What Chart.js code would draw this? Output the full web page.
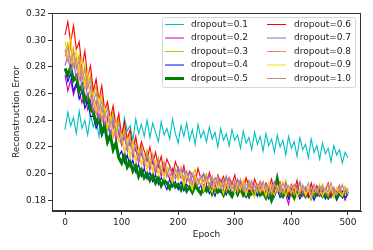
<!DOCTYPE html>
<html>
<head>
<meta charset="utf-8">
<script src="https://cdn.jsdelivr.net/npm/chart.js@4"></script>
<style>
  html, body { margin: 0; padding: 0; background: #fff; }
  canvas { display: block; }
</style>
</head>
<body>
<canvas id="chart" width="373" height="250"></canvas>
<script>
// epochs sampled every 5
var epochs = [];
for (var e = 0; e <= 500; e += 5) epochs.push(e);

var xTicks = [0, 100, 200, 300, 400, 500];
var yTicks = [0.18, 0.20, 0.22, 0.24, 0.26, 0.28, 0.30, 0.32];

var labels = ["dropout=0.1", "dropout=0.2", "dropout=0.3", "dropout=0.4", "dropout=0.5",
              "dropout=0.6", "dropout=0.7", "dropout=0.8", "dropout=0.9", "dropout=1.0"];
var colors = ["#00bfbf", "#bf00bf", "#bfbf00", "#0000ff", "#008000",
              "#ff0000", "#9966cc", "#fa8072", "#ffd700", "#bc8f8f"];

var d01 = [0.233, 0.246, 0.236, 0.242, 0.230, 0.247, 0.234, 0.240, 0.229, 0.244,
  0.235, 0.241, 0.228, 0.245, 0.233, 0.238, 0.227, 0.243, 0.231, 0.239,
  0.226, 0.242, 0.232, 0.236, 0.225, 0.241, 0.230, 0.237, 0.228, 0.240,
  0.227, 0.238, 0.231, 0.224, 0.239, 0.229, 0.234, 0.226, 0.241, 0.230,
  0.223, 0.236, 0.228, 0.238, 0.225, 0.233, 0.222, 0.237, 0.227, 0.232,
  0.224, 0.235, 0.226, 0.231, 0.220, 0.234, 0.225, 0.230, 0.221, 0.233,
  0.225, 0.229, 0.219, 0.232, 0.223, 0.227, 0.218, 0.231, 0.222, 0.228,
  0.217, 0.230, 0.221, 0.226, 0.216, 0.229, 0.220, 0.225, 0.214, 0.228,
  0.219, 0.224, 0.213, 0.227, 0.218, 0.222, 0.212, 0.226, 0.216, 0.221,
  0.211, 0.223, 0.215, 0.219, 0.209, 0.221, 0.214, 0.218, 0.208, 0.216, 0.212];

var d02 = [0.274, 0.262, 0.270, 0.259, 0.266, 0.262, 0.253, 0.260, 0.248, 0.255,
  0.243, 0.251, 0.238, 0.246, 0.234, 0.241, 0.229, 0.237, 0.225, 0.231,
  0.221, 0.228, 0.217, 0.224, 0.212, 0.219, 0.208, 0.216, 0.205, 0.212,
  0.203, 0.210, 0.200, 0.208, 0.198, 0.205, 0.201, 0.196, 0.204, 0.199,
  0.196, 0.202, 0.193, 0.200, 0.195, 0.191, 0.198, 0.193, 0.196, 0.189,
  0.197, 0.191, 0.195, 0.188, 0.194, 0.190, 0.196, 0.187, 0.193, 0.189,
  0.192, 0.186, 0.195, 0.189, 0.185, 0.193, 0.188, 0.191, 0.184, 0.190,
  0.187, 0.192, 0.185, 0.189, 0.183, 0.191, 0.186, 0.188, 0.184, 0.177,
  0.189, 0.184, 0.191, 0.186, 0.183, 0.190, 0.185, 0.188, 0.182, 0.189,
  0.185, 0.190, 0.183, 0.187, 0.184, 0.189, 0.182, 0.187, 0.185, 0.180, 0.186];

var d03 = [0.291, 0.298, 0.285, 0.294, 0.280, 0.289, 0.271, 0.281, 0.266, 0.274,
  0.258, 0.266, 0.251, 0.260, 0.245, 0.253, 0.239, 0.247, 0.233, 0.241,
  0.226, 0.235, 0.222, 0.230, 0.217, 0.226, 0.214, 0.221, 0.209, 0.218,
  0.207, 0.215, 0.203, 0.212, 0.201, 0.209, 0.198, 0.206, 0.200, 0.204,
  0.197, 0.205, 0.195, 0.201, 0.193, 0.199, 0.203, 0.192, 0.198, 0.194,
  0.200, 0.190, 0.197, 0.193, 0.188, 0.196, 0.191, 0.198, 0.187, 0.194,
  0.189, 0.195, 0.186, 0.192, 0.197, 0.188, 0.193, 0.185, 0.191, 0.187,
  0.194, 0.186, 0.190, 0.184, 0.193, 0.188, 0.191, 0.185, 0.195, 0.187,
  0.183, 0.191, 0.186, 0.193, 0.184, 0.189, 0.187, 0.192, 0.183, 0.190,
  0.186, 0.192, 0.184, 0.188, 0.191, 0.183, 0.189, 0.185, 0.192, 0.186, 0.189];

var d04 = [0.278, 0.269, 0.275, 0.262, 0.268, 0.256, 0.262, 0.249, 0.254, 0.243,
  0.243, 0.234, 0.240, 0.228, 0.234, 0.222, 0.228, 0.217, 0.223, 0.213,
  0.217, 0.208, 0.214, 0.205, 0.210, 0.201, 0.207, 0.198, 0.204, 0.196,
  0.201, 0.194, 0.199, 0.192, 0.197, 0.193, 0.188, 0.196, 0.190, 0.194,
  0.188, 0.194, 0.187, 0.192, 0.189, 0.185, 0.193, 0.188, 0.191, 0.186,
  0.191, 0.185, 0.189, 0.183, 0.190, 0.186, 0.188, 0.184, 0.190, 0.185,
  0.188, 0.183, 0.189, 0.185, 0.182, 0.188, 0.184, 0.187, 0.183, 0.189,
  0.184, 0.187, 0.181, 0.186, 0.183, 0.188, 0.182, 0.185, 0.187, 0.181,
  0.186, 0.183, 0.187, 0.181, 0.185, 0.188, 0.182, 0.186, 0.180, 0.185,
  0.183, 0.187, 0.181, 0.185, 0.182, 0.186, 0.180, 0.184, 0.187, 0.182, 0.185];

var d05 = [0.279, 0.274, 0.280, 0.270, 0.273, 0.262, 0.266, 0.254, 0.258, 0.248,
  0.246, 0.238, 0.242, 0.231, 0.236, 0.224, 0.229, 0.218, 0.223, 0.212,
  0.208, 0.214, 0.205, 0.209, 0.202, 0.206, 0.198, 0.203, 0.197, 0.200,
  0.195, 0.199, 0.193, 0.197, 0.191, 0.195, 0.193, 0.189, 0.194, 0.190,
  0.192, 0.188, 0.193, 0.187, 0.190, 0.186, 0.191, 0.188, 0.185, 0.190,
  0.187, 0.191, 0.185, 0.189, 0.186, 0.188, 0.184, 0.189, 0.186, 0.183,
  0.188, 0.185, 0.190, 0.184, 0.187, 0.183, 0.188, 0.185, 0.189, 0.184,
  0.186, 0.182, 0.187, 0.180, 0.185, 0.196, 0.186, 0.183, 0.187, 0.184,
  0.186, 0.182, 0.188, 0.184, 0.186, 0.183, 0.187, 0.182, 0.186, 0.184,
  0.187, 0.183, 0.185, 0.182, 0.186, 0.184, 0.182, 0.186, 0.183, 0.187, 0.185];

var d06 = [0.304, 0.314, 0.298, 0.311, 0.293, 0.299, 0.279, 0.292, 0.272, 0.281,
  0.262, 0.271, 0.255, 0.266, 0.248, 0.254, 0.241, 0.251, 0.236, 0.245,
  0.228, 0.239, 0.226, 0.233, 0.219, 0.228, 0.214, 0.224, 0.217, 0.211,
  0.220, 0.208, 0.216, 0.205, 0.213, 0.201, 0.211, 0.206, 0.199, 0.209,
  0.203, 0.197, 0.206, 0.194, 0.202, 0.199, 0.193, 0.204, 0.196, 0.200,
  0.192, 0.201, 0.195, 0.189, 0.199, 0.193, 0.198, 0.190, 0.197, 0.192,
  0.199, 0.189, 0.195, 0.187, 0.197, 0.191, 0.186, 0.196, 0.190, 0.194,
  0.186, 0.193, 0.189, 0.196, 0.185, 0.191, 0.194, 0.186, 0.190, 0.184,
  0.192, 0.187, 0.195, 0.184, 0.190, 0.188, 0.183, 0.193, 0.186, 0.191,
  0.184, 0.190, 0.187, 0.193, 0.183, 0.189, 0.186, 0.191, 0.184, 0.190, 0.186];

var d07 = [0.281, 0.289, 0.276, 0.285, 0.271, 0.279, 0.263, 0.272, 0.257, 0.265,
  0.247, 0.255, 0.241, 0.250, 0.237, 0.244, 0.230, 0.239, 0.227, 0.233,
  0.222, 0.229, 0.217, 0.225, 0.214, 0.221, 0.209, 0.217, 0.207, 0.213,
  0.205, 0.212, 0.202, 0.209, 0.200, 0.207, 0.198, 0.204, 0.201, 0.196,
  0.205, 0.197, 0.203, 0.195, 0.201, 0.193, 0.199, 0.196, 0.191, 0.200,
  0.194, 0.199, 0.190, 0.197, 0.192, 0.195, 0.189, 0.198, 0.191, 0.194,
  0.188, 0.196, 0.190, 0.193, 0.187, 0.195, 0.189, 0.192, 0.186, 0.194,
  0.189, 0.192, 0.185, 0.190, 0.194, 0.187, 0.191, 0.185, 0.193, 0.188,
  0.186, 0.191, 0.188, 0.194, 0.185, 0.190, 0.187, 0.183, 0.192, 0.186,
  0.190, 0.184, 0.189, 0.186, 0.193, 0.185, 0.188, 0.191, 0.184, 0.189, 0.187];

var d08 = [0.293, 0.284, 0.296, 0.280, 0.287, 0.270, 0.279, 0.263, 0.272, 0.257,
  0.255, 0.244, 0.252, 0.239, 0.247, 0.233, 0.241, 0.227, 0.236, 0.224,
  0.228, 0.216, 0.225, 0.213, 0.221, 0.209, 0.218, 0.207, 0.213, 0.204,
  0.212, 0.202, 0.209, 0.200, 0.206, 0.197, 0.205, 0.199, 0.195, 0.203,
  0.197, 0.202, 0.193, 0.200, 0.196, 0.190, 0.199, 0.193, 0.197, 0.189,
  0.195, 0.191, 0.198, 0.188, 0.194, 0.190, 0.196, 0.187, 0.193, 0.189,
  0.195, 0.186, 0.192, 0.189, 0.185, 0.194, 0.188, 0.191, 0.186, 0.193,
  0.187, 0.191, 0.184, 0.192, 0.188, 0.186, 0.193, 0.185, 0.190, 0.187,
  0.191, 0.184, 0.189, 0.186, 0.192, 0.183, 0.188, 0.190, 0.185, 0.189,
  0.184, 0.190, 0.186, 0.183, 0.191, 0.187, 0.185, 0.190, 0.184, 0.188, 0.186];

var d09 = [0.299, 0.288, 0.303, 0.284, 0.292, 0.276, 0.285, 0.266, 0.277, 0.259,
  0.261, 0.247, 0.257, 0.243, 0.250, 0.235, 0.244, 0.229, 0.239, 0.224,
  0.230, 0.217, 0.226, 0.212, 0.223, 0.209, 0.219, 0.206, 0.214, 0.203,
  0.211, 0.201, 0.209, 0.199, 0.206, 0.196, 0.204, 0.198, 0.193, 0.203,
  0.195, 0.201, 0.191, 0.199, 0.194, 0.188, 0.198, 0.192, 0.196, 0.187,
  0.196, 0.190, 0.186, 0.195, 0.189, 0.193, 0.185, 0.194, 0.188, 0.191,
  0.185, 0.193, 0.188, 0.195, 0.184, 0.190, 0.187, 0.182, 0.192, 0.186,
  0.190, 0.183, 0.193, 0.187, 0.184, 0.191, 0.186, 0.194, 0.183, 0.189,
  0.185, 0.192, 0.182, 0.188, 0.191, 0.184, 0.189, 0.181, 0.190, 0.186,
  0.192, 0.183, 0.188, 0.185, 0.191, 0.182, 0.189, 0.186, 0.183, 0.190, 0.185];

var d10 = [0.288, 0.295, 0.283, 0.291, 0.278, 0.285, 0.270, 0.278, 0.264, 0.271,
  0.253, 0.261, 0.247, 0.255, 0.242, 0.249, 0.236, 0.243, 0.230, 0.238,
  0.224, 0.231, 0.219, 0.227, 0.215, 0.222, 0.211, 0.219, 0.208, 0.215,
  0.206, 0.213, 0.203, 0.210, 0.201, 0.208, 0.199, 0.205, 0.197, 0.203,
  0.199, 0.204, 0.196, 0.202, 0.193, 0.200, 0.195, 0.191, 0.199, 0.194,
  0.197, 0.190, 0.196, 0.192, 0.198, 0.189, 0.194, 0.191, 0.196, 0.188,
  0.193, 0.189, 0.196, 0.187, 0.192, 0.190, 0.195, 0.186, 0.191, 0.188,
  0.194, 0.187, 0.190, 0.185, 0.192, 0.189, 0.186, 0.193, 0.188, 0.191,
  0.186, 0.192, 0.188, 0.185, 0.191, 0.187, 0.193, 0.184, 0.189, 0.186,
  0.191, 0.185, 0.189, 0.192, 0.186, 0.190, 0.184, 0.188, 0.191, 0.185, 0.189];

var series = [d01, d02, d03, d04, d05, d06, d07, d08, d09, d10];

var FONT = "'DejaVu Sans', sans-serif";

// matplotlib-like legend box drawn inside the plot, plus the full frame
var boxLegend = {
    id: "boxLegend",
    afterDraw: function (chart) {
        var c = chart.ctx, a = chart.chartArea;
        c.save();
        c.strokeStyle = "#333";
        c.lineWidth = 1;
        c.strokeRect(Math.round(a.left) + 0.5, Math.round(a.top) + 0.5,
                     Math.round(a.right - a.left) - 1, Math.round(a.bottom - a.top) - 1);

        var bx = 162, by = 17, bw = 193, bh = 70;
        c.fillStyle = "rgba(255,255,255,0.85)";
        c.strokeStyle = "#d6d6d6";
        c.beginPath();
        c.roundRect(bx + 0.5, by + 0.5, bw, bh, 2);
        c.fill();
        c.stroke();

        c.font = "9px " + FONT;
        c.textBaseline = "middle";
        c.fillStyle = "#222";
        for (var i = 0; i < labels.length; i++) {
            var col = Math.floor(i / 5), row = i % 5;
            var hx = col === 0 ? 165 : 267;
            var tx = col === 0 ? 191 : 294;
            var yy = 24.5 + row * 13.5;
            c.strokeStyle = colors[i];
            c.lineWidth = i === 4 ? 3 : 1;
            c.beginPath();
            c.moveTo(hx, yy);
            c.lineTo(hx + 19, yy);
            c.stroke();
            c.fillText(labels[i], tx, yy);
        }
        c.restore();
    }
};

var datasets = series.map(function (vals, i) {
    return {
        label: labels[i],
        data: epochs.map(function (ep, k) { return { x: ep, y: vals[k] }; }),
        borderColor: colors[i],
        borderWidth: i === 4 ? 3 : 1.1,
        pointRadius: 0,
        fill: false,
        tension: 0,
        order: 9 - i
    };
});

new Chart(document.getElementById("chart").getContext("2d"), {
    type: "line",
    data: { datasets: datasets },
    plugins: [boxLegend],
    options: {
        responsive: false,
        animation: false,
        layout: { padding: { left: 0, top: 13, right: 12, bottom: 0 } },
        plugins: { legend: { display: false }, tooltip: { enabled: false } },
        scales: {
            x: {
                type: "linear",
                min: -23,
                max: 523,
                afterBuildTicks: function (s) { s.ticks = xTicks.map(function (v) { return { value: v }; }); },
                afterFit: function (s) { s.height = 39; },
                grid: { display: true, drawOnChartArea: false, drawTicks: true, tickLength: 4, color: "#333" },
                border: { display: true, color: "#333" },
                ticks: { color: "#222", font: { family: FONT, size: 9 }, padding: 2, maxRotation: 0,
                         callback: function (v) { return String(v); } },
                title: { display: true, text: "Epoch", color: "#222", font: { family: FONT, size: 9 }, padding: { top: 2, bottom: 10 } }
            },
            y: {
                min: 0.172,
                max: 0.3205,
                afterBuildTicks: function (s) { s.ticks = yTicks.map(function (v) { return { value: v }; }); },
                afterFit: function (s) { s.width = 52; },
                grid: { display: true, drawOnChartArea: false, drawTicks: true, tickLength: 4, color: "#333" },
                border: { display: true, color: "#333" },
                ticks: { color: "#222", font: { family: FONT, size: 9 }, padding: 2,
                         callback: function (v) { return v.toFixed(2); } },
                title: { display: true, text: "Reconstruction Error", color: "#222", font: { family: FONT, size: 9 }, padding: { top: 11, bottom: 2 } }
            }
        }
    }
});
</script>
</body>
</html>
